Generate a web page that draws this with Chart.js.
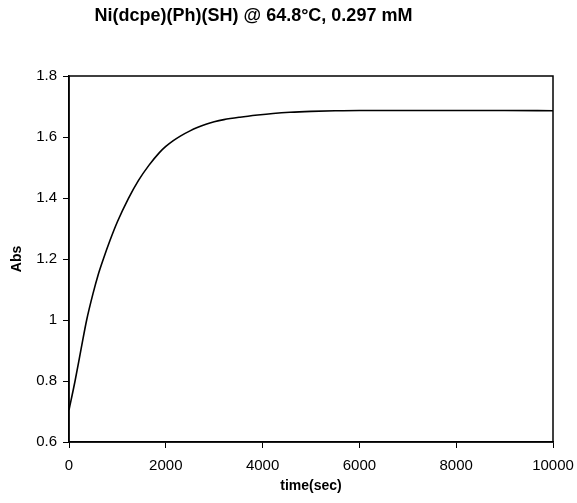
<!DOCTYPE html>
<html>
<head>
<meta charset="utf-8">
<script src="https://cdn.jsdelivr.net/npm/chart.js@4/dist/chart.umd.min.js"></script>
<style>
html,body{margin:0;padding:0;background:#fff;}
#wrap{width:577px;height:503px;position:relative;}
</style>
</head>
<body>
<div id="wrap"><canvas id="c" width="577" height="503"></canvas></div>
<script>
const chartTitle = "Ni(dcpe)(Ph)(SH) @ 64.8°C, 0.297 mM";
const xAxisTitle = "time(sec)";
const yAxisTitle = "Abs";
const timeSec = [0, 125, 250, 365, 500, 600, 710, 850, 1000, 1226, 1433, 1650, 1863, 2000, 2155, 2300, 2500, 2650, 2830, 3000, 3200, 3533, 3900, 4215, 4566, 5000, 5500, 6000, 7000, 8000, 9000, 10000];
const absValues = [0.705, 0.80, 0.905, 1.00, 1.089, 1.147, 1.20, 1.262, 1.322, 1.398, 1.457, 1.507, 1.548, 1.569, 1.588, 1.603, 1.620, 1.631, 1.642, 1.650, 1.657, 1.665, 1.672, 1.677, 1.681, 1.684, 1.686, 1.687, 1.687, 1.687, 1.687, 1.686];
const xTicks = [0, 2000, 4000, 6000, 8000, 10000];
const yTicks = [0.6, 0.8, 1.0, 1.2, 1.4, 1.6, 1.8];
const yTickLabels = ["0.6", "0.8", "1", "1.2", "1.4", "1.6", "1.8"];

const FONT = "'Liberation Sans', Arial, sans-serif";

const frame = {
  id: 'frame',
  afterDatasetsDraw(chart) {
    const a = chart.chartArea, ctx = chart.ctx;
    ctx.save();
    ctx.strokeStyle = '#000';
    ctx.lineWidth = 1.5;
    ctx.strokeRect(a.left, a.top, a.right - a.left, a.bottom - a.top);
    ctx.restore();
  }
};

const titleText = {
  id: 'titleText',
  afterDraw(chart) {
    const ctx = chart.ctx;
    ctx.save();
    ctx.fillStyle = '#000';
    ctx.font = "bold 18px " + FONT;
    ctx.textAlign = 'center';
    ctx.textBaseline = 'middle';
    ctx.fillText(chartTitle, 253.5, 16);
    ctx.restore();
  }
};

new Chart(document.getElementById('c'), {
  type: 'line',
  data: {
    datasets: [{
      data: timeSec.map((t, i) => ({x: t, y: absValues[i]})),
      borderColor: '#000',
      borderWidth: 1.6,
      pointRadius: 0,
      fill: false,
      cubicInterpolationMode: 'monotone'
    }]
  },
  options: {
    responsive: false,
    animation: false,
    devicePixelRatio: 1,
    layout: {padding: {left: 0, right: 24, top: 76, bottom: 0}},
    plugins: {
      legend: {display: false},
      tooltip: {enabled: false},
      title: {display: false}
    },
    scales: {
      x: {
        type: 'linear',
        min: 0, max: 10000,
        afterBuildTicks: s => { s.ticks = xTicks.map(v => ({value: v})); },
        afterFit: s => { s.height = 61; s.paddingLeft = 0; s.paddingRight = 0; },
        border: {display: true, color: '#000', width: 1.5},
        grid: {drawOnChartArea: false, drawTicks: true, tickLength: 6, color: '#000', lineWidth: 1},
        ticks: {color: '#000', font: {family: FONT, size: 15}, padding: 9, maxRotation: 0,
                callback: v => String(v)},
        title: {display: true, text: xAxisTitle, color: '#000',
                font: {family: FONT, size: 14, weight: 'bold'}, padding: {top: 0, bottom: 8}}
      },
      y: {
        type: 'linear',
        min: 0.6, max: 1.8,
        afterBuildTicks: s => { s.ticks = yTicks.map(v => ({value: v})); },
        afterFit: s => { s.width = 69; s.paddingTop = 0; s.paddingBottom = 0; },
        border: {display: true, color: '#000', width: 1.5},
        grid: {drawOnChartArea: false, drawTicks: true, tickLength: 6, color: '#000', lineWidth: 1},
        ticks: {color: '#000', font: {family: FONT, size: 15}, padding: 6,
                callback: (v) => yTickLabels[yTicks.indexOf(Math.round(v * 10) / 10)] ?? String(v)},
        title: {display: true, text: yAxisTitle, color: '#000',
                font: {family: FONT, size: 14, weight: 'bold'}, padding: {top: 9, bottom: 0}}
      }
    }
  },
  plugins: [frame, titleText]
});
</script>
</body>
</html>
